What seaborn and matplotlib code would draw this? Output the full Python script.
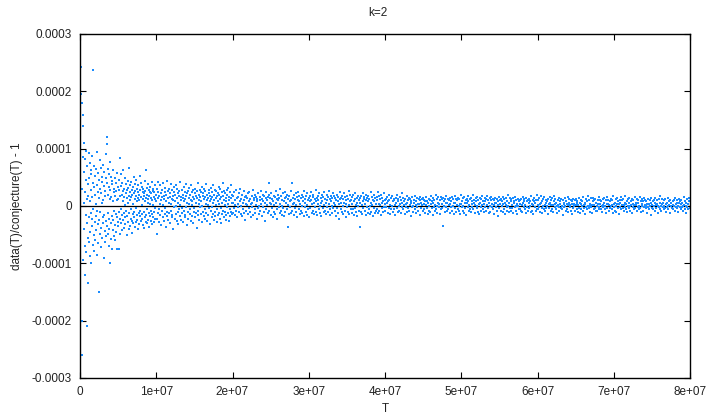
import numpy as np
import pandas as pd
import matplotlib
matplotlib.use("Agg")
import matplotlib.pyplot as plt
import seaborn as sns

# ---- data: relative deviation data(T)/conjecture(T) - 1, in units of 1e-6 ----
seg_a_range = (1.5e5, 5e6)
seg_a = [243, 195, -260, 180, 30, -200, 158, 85, -95, 140,
         5, -40, 110, 60, -120, 25, -70, 82, -15, 45,
         -80, 96, -30, 12, -210, 70, -55, 38, -135, 18,
         92, -62, 48, -20, 75, -88, 8, -45, 62, -12,
         28, -100, 55, -35, 88, -22, 15, -68, 40, -5,
         238, -50, 33, -78, 70, -28, 20, -60, 52, 3,
         -42, 65, -18, 95, -85, 36, -8, 58, -32, 24,
         -65, 46, -150, 14, -25, 80, -48, 30, -10, 66,
         -38, 22, -72, 50, 6, -55, 42, -20, 72, -30,
         10, -90, 35, -15, 60, -44, 26, -62, 18, 48,
         -26, 90, -52, 120, 108, -35, 40, -12, 64, -48,
         20, -70, 56, -22, 34, -40, 12, 76, -100, 28,
         -30, 50, -58, 16, 44, -18, -75, 38, 8, -42,
         62, -25, 24, -52, 30, -8, 48, -34, 18, -60,
         40, -14, 26, -46, 58, -20, 10, -75, 34, -28]

seg_b_range = (5e6, 1e7)
seg_b = [12, -35, 28, -75, 45, -10, 84, -22, 18, -48,
         35, -5, 55, -30, 20, -15, 40, -42, 8, 26,
         -25, 62, -12, 30, -38, 15, -20, 48, 2, -32,
         22, -8, 38, -50, 14, 28, -18, 44, -28, 6,
         32, -40, 18, 66, -12, 24, -35, 10, 36, -22,
         16, -6, 42, -26, 28, -47, 20, -14, 34, 4,
         -30, 50, -10, 22, -20, 12, 38, -36, 26, -4,
         18, -28, 46, -16, 8, 30, -24, 14, -40, 24,
         36, -12, 20, -32, 10, 52, -18, 28, -8, 16,
         -26, 40, 2, -22, 34, -14, 24, -34, 12, 30,
         -10, 22, -38, 18, 44, -20, 8, 26, -28, 14,
         63, -16, 32, -6, 20, -30, 12, 38, -24, 6,
         28, -12, 18, -36, 24, 4, -18, 34, -8, 22,
         -26, 14, 42, -14, 10, -32, 26, 2, -20, 30,
         16, -10, 24, -28, 36, -4, 12, -22, 20, 8]

seg_c_range = (1e7, 2e7)
seg_c = [8, -22, 30, -49, 14, 24, -12, 42, -6, 18, -28, 36, 4, -16, 22, -34, 10, 28, -8, 16,
         -20, 40, 2, -26, 18, 12, -14, 32, -4, 24, -36, 8, 20, -10, 44, -18, 14, 26, -24, 6,
         30, -12, 16, -30, 22, 4, -8, 38, -20, 12, 28, -16, 10, -40, 18, 34, -2, 24, -22, 8,
         20, -14, 36, 0, -26, 14, 30, -10, 22, -32, 6, 18, -6, 26, -18, 42, 2, -24, 16, 10,
         -12, 28, -4, 20, -28, 14, 34, -8, 8, -20, 24, 12, -16, 38, -2, 18, -34, 22, 6, -10,
         26, -22, 14, 4, 32, -14, 20, -6, 10, -26, 36, 2, -18, 24, 8, -30, 16, 28, -10, 12,
         -4, 22, -20, 30, 6, -12, 18, -38, 14, 26, -8, 40, -16, 10, 20, -24, 4, 28, -2, 16,
         -14, 24, 8, -28, 34, 0, 18, -10, 22, -18, 12, 30, -6, 16, -22, 26, 4, -12, 38, 10,
         -26, 20, 2, 14, -16, 28, -4, 22, -32, 8, 18, -8, 32, 12, -20, 24, -2, 16, -14, 36,
         6, -24, 20, 10, -10, 28, -18, 14, 2, 26, -28, 18, -6, 22, 8, -16, 34, 4, -12, 20,
         -22, 12, 30, -4, 16, -30, 24, 6, -14, 18, 40, -8, 10, -20, 26, 2, -10, 22, -24, 14,
         8, -16, 28, -2, 20, -12, 32, 4, -26, 16, 10, -6, 24, -18, 14, 36, -10, 6, 20, -14]

seg_d_range = (2e7, 4e7)
seg_d = [6, -12, 18, -4, 24, 2, -16, 10, 28, -8, 14, -20, 4, 16, -2, 22, -10, 8, 30, -14,
         12, 0, -18, 20, 6, -6, 26, -12, 10, 16, -24, 4, 18, -8, 14, 2, -14, 22, 8, -4,
         24, -10, 12, 4, -20, 18, 6, -2, 28, -16, 10, 14, -6, 20, -12, 2, 16, -22, 8, 12,
         -4, 22, 0, -14, 16, 10, -8, 26, 4, -18, 12, 20, -2, 8, -10, 18, 6, -26, 14, 24,
         -6, 10, 2, 16, -12, 20, 40, -8, 6, 14, -16, 4, 22, -4, 12, -20, 8, 18, -10, 2,
         16, -14, 26, 6, -6, 12, -22, 10, 20, -2, 14, -12, 4, 30, -8, 18, 0, -16, 10, 22,
         -4, 8, -18, 14, 24, -10, 6, 16, -6, 20, -37, 12, 2, -14, 18, 8, -2, 26, -12, 10,
         40, -8, 14, 4, -16, 20, 6, -4, 12, 22, -10, 2, 16, -20, 10, 24, -6, 8, 18, -14,
         4, 14, -8, 20, 0, -12, 16, 8, -18, 26, 6, -2, 12, -10, 18, 2, -16, 22, 10, -6,
         14, -20, 8, 18, -4, 10, 24, -12, 4, 16, -8, 20, -14, 6, 12, -2, 28, -10, 8, 14,
         -16, 4, 18, 10, -6, 22, 0, -12, 14, 6, -18, 20, 8, -4, 16, -10, 2, 24, -8, 12,
         6, -14, 20, -2, 10, 16, -10, 4, 26, -6, 12, -16, 8, 18, 0, -12, 14, 22, -4, 6,
         18, -8, 2, 14, -18, 10, 20, -4, 8, -12, 16, 4, -22, 12, 24, -6, 6, 14, -10, 18,
         0, 12, -14, 22, 6, -8, 16, 10, -20, 4, 18, -2, 12, -10, 26, 2, -14, 8, 20, -6,
         10, -12, 16, 4, -6, 20, -16, 8, 12, -4, 22, 2, -10, 14, 6, -18, 18, 0, 10, -8,
         -37, 14, 6, -10, 18, 2, -14, 22, 8, -4, 12, 16, -8, 4, -16, 20, 10, -2, 14, -12,
         8, 18, -6, 12, 0, -14, 24, 6, -10, 16, 2, -18, 10, 20, -4, 8, -12, 14, 4, -8,
         16, -6, 10, 25, -12, 4, 18, -8, 12, 2, -16, 20, 6, -4, 14, -10, 8, 22, -2, 10]

seg_e_range = (4e7, 6e7)
seg_e = [4, -8, 12, -2, 16, 6, -12, 8, 20, -4, 10, -14, 2, 14, -6, 18, 0, -10, 8, 12,
         -6, 10, 2, -16, 14, 6, -4, 20, 8, -10, 12, 0, -8, 16, 4, -12, 10, 22, -2, 6,
         14, -6, 8, 2, -14, 12, 4, -2, 18, -10, 6, 10, -4, 14, -8, 2, 12, -18, 6, 8,
         -2, 16, 0, -10, 10, 6, -6, 18, 2, -12, 8, 14, -2, 4, -8, 12, 4, -16, 10, 16,
         -4, 6, 2, 12, -8, 14, 4, -6, 10, 8, -12, 2, 16, -4, 8, -14, 6, 12, -8, 0,
         10, -10, 18, 4, -4, 8, -16, 6, 14, -2, 10, -8, 2, 20, -6, 12, 0, -12, 6, 16,
         -2, 4, -14, 10, 16, -6, 4, 12, -4, 14, -35, 8, 0, -10, 12, 6, -2, 18, -8, 6,
         12, -6, 10, 2, -12, 14, 4, -2, 8, 16, -8, 0, 12, -14, 6, 18, -4, 6, 12, -10,
         2, 10, -6, 14, 0, -8, 12, 4, -14, 20, 4, -2, 8, -8, 14, 0, -12, 16, 6, -4,
         10, -16, 6, 12, -2, 8, 18, -8, 2, 12, -6, 14, -10, 4, 8, -2, 20, -6, 6, 10,
         -12, 2, 14, 8, -4, 16, 0, -10, 10, 4, -14, 14, 6, -2, 12, -8, 2, 18, -6, 8,
         4, -10, 14, -2, 8, 12, -8, 2, 18, -4, 10, -12, 6, 14, 0, -10, 10, 16, -2, 4,
         12, -6, 2, 10, -14, 6, 14, -2, 6, -8, 12, 2, -18, 8, 16, -4, 4, 10, -8, 12,
         0, 8, -10, 16, 4, -6, 12, 6, -14, 2, 14, -2, 8, -8, 20, 0, -10, 6, 14, -4,
         8, -8, 12, 2, -4, 14, -12, 6, 8, -2, 16, 0, -8, 10, 4, -14, 12, 0, 8, -6,
         -6, 10, 4, -8, 12, 2, -10, 16, 6, -2, 8, 12, -6, 2, -12, 14, 8, -2, 10, -8,
         6, 12, -4, 8, 0, -10, 18, 4, -8, 10, 2, -14, 8, 14, -2, 6, -8, 10, 20, -6]

seg_f_range = (6e7, 8e7)
seg_f = [2, -6, 10, -2, 14, 4, -10, 6, 18, -4, 8, -12, 0, 12, -6, 16, 2, -8, 6, 10,
         -4, 8, 0, -14, 12, 4, -4, 16, 6, -8, 10, 2, -6, 14, 2, -10, 8, 18, -2, 4,
         12, -6, 6, 0, -12, 10, 2, -2, 14, -8, 4, 8, -4, 12, -6, 0, 10, -16, 4, 6,
         -2, 14, 0, -8, 8, 4, -6, 16, 2, -10, 6, 12, -2, 2, -8, 10, 4, -14, 8, 12,
         -4, 4, 0, 10, -8, 12, 2, -6, 8, 6, -10, 2, 14, -4, 6, -12, 4, 10, -6, 0,
         8, -8, 16, 2, -4, 6, -14, 4, 12, -2, 8, -6, 0, 18, -4, 10, 0, -10, 4, 14,
         -2, 2, -12, 8, 14, -6, 2, 10, -4, 12, -8, 6, 0, -8, 10, 4, -2, 16, -6, 4,
         10, -6, 8, 0, -10, 12, 2, -2, 6, 14, -6, 0, 10, -12, 4, 16, -4, 4, 10, -8,
         2, 8, -4, 12, 0, -6, 10, 2, -12, 18, 4, -2, 6, -8, 12, 0, -10, 14, 4, -4,
         8, -14, 4, 10, -2, 6, 16, -6, 2, 10, -4, 12, -8, 2, 6, -2, 18, -6, 4, 8,
         -10, 0, 12, 6, -4, 14, 0, -8, 8, 2, -12, 12, 4, -2, 10, -6, 2, 16, -4, 6,
         2, -8, 12, -2, 6, 10, -6, 0, 16, -4, 8, -10, 4, 12, 0, -8, 8, 14, -2, 2,
         10, -4, 0, 8, -12, 4, 12, -2, 4, -6, 10, 0, -16, 6, 14, -4, 2, 8, -6, 10,
         0, 6, -8, 14, 2, -4, 10, 4, -12, 0, 12, -2, 6, -6, 18, 0, -8, 4, 12, -2,
         6, -6, 10, 0, -4, 12, -10, 4, 6, -2, 14, 0, -6, 8, 2, -12, 10, 0, 6, -4,
         -4, 8, 2, -6, 10, 0, -8, 14, 4, -2, 6, 10, -4, 0, -10, 12, 6, -2, 8, -6,
         4, 10, -2, 6, 0, -8, 16, 2, -6, 8, 0, -12, 6, 12, -2, 4, -6, 8, 14, -4]

x_ticks = [0, 1e7, 2e7, 3e7, 4e7, 5e7, 6e7, 7e7, 8e7]
x_tick_labels = ["0", "1e+07", "2e+07", "3e+07", "4e+07", "5e+07", "6e+07", "7e+07", "8e+07"]
y_ticks = [-0.0003, -0.0002, -0.0001, 0, 0.0001, 0.0002, 0.0003]
y_tick_labels = ["-0.0003", "-0.0002", "-0.0001", "0", "0.0001", "0.0002", "0.0003"]
title_text = "k=2"
x_label = "T"
y_label = "data(T)/conjecture(T) - 1"

# ---- assemble table (T sampled on a regular grid inside each segment) ----
frames = []
for (t0, t1), vals in [(seg_a_range, seg_a), (seg_b_range, seg_b), (seg_c_range, seg_c),
                       (seg_d_range, seg_d), (seg_e_range, seg_e), (seg_f_range, seg_f)]:
    T = np.linspace(t0, t1, len(vals), endpoint=False)
    frames.append(pd.DataFrame({"T": T, "dev": np.array(vals, dtype=float) * 1e-6}))
df = pd.concat(frames, ignore_index=True)

# ---- plot ----
sns.set_theme(style="white")
plt.rcParams["font.family"] = ["Liberation Sans", "DejaVu Sans"]

W, H = 710, 416
fig = plt.figure(figsize=(W / 100, H / 100), dpi=100)
ax = fig.add_axes([80 / W, (H - 378) / H, (690 - 80) / W, (378 - 34) / H])

ax.axhline(0, color="black", lw=0.9, zorder=1)
sns.scatterplot(data=df, x="T", y="dev", ax=ax, color="#1a8cff", marker="s",
                s=3.2, linewidth=0, legend=False, zorder=2)

ax.set_xlim(0, 8e7)
ax.set_ylim(-0.0003, 0.0003)
ax.set_xticks(x_ticks)
ax.set_xticklabels(x_tick_labels)
ax.set_yticks(y_ticks)
ax.set_yticklabels(y_tick_labels)
ax.tick_params(direction="in", length=4.5, width=0.8, top=True, right=True,
               bottom=True, left=True, labelsize=8.5, colors="black", pad=6,
               labelcolor="#222222")
for sp in ax.spines.values():
    sp.set_color("black")
    sp.set_linewidth(1.0)
ax.set_xlabel("")
ax.set_ylabel("")
ax.grid(False)

fig.text(378 / W, 1 - 13 / H, title_text, ha="center", va="center", fontsize=8.5, color="#222222")
fig.text(385 / W, 1 - 409 / H, x_label, ha="center", va="center", fontsize=8.5, color="#222222")
fig.text(17 / W, 1 - 206 / H, y_label, ha="center", va="center", rotation=90, fontsize=8.5,
         color="#222222")

fig.savefig("out.png", dpi=100)
